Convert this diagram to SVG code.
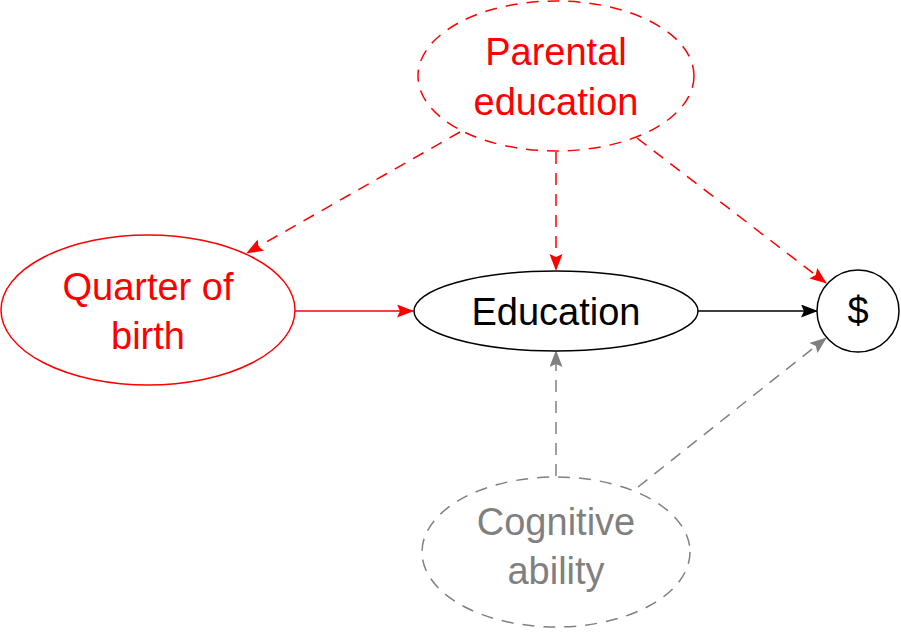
<svg xmlns="http://www.w3.org/2000/svg" width="901" height="633" viewBox="0 0 901 633">
<defs>
<style>
.t{font-family:"Liberation Sans",Arial,sans-serif;font-size:38px;text-anchor:middle}
.red{fill:#ff0000}
.gray{fill:#808080}
.blk{fill:#000}
.node{fill:#fff;stroke-width:1.5}
.e{fill:none;stroke-width:1.5}
.dash{stroke-dasharray:12 9}
</style>
<marker id="ar" markerUnits="userSpaceOnUse" markerWidth="18" markerHeight="14" refX="16" refY="6.5" orient="auto" viewBox="0 0 18 14"><path d="M0,0 L17,6.5 L0,13 L3,6.5 Z" fill="#ff0000"/></marker>
<marker id="ab" markerUnits="userSpaceOnUse" markerWidth="18" markerHeight="14" refX="16" refY="6.5" orient="auto" viewBox="0 0 18 14"><path d="M0,0 L17,6.5 L0,13 L3,6.5 Z" fill="#000"/></marker>
<marker id="ag" markerUnits="userSpaceOnUse" markerWidth="18" markerHeight="14" refX="16" refY="6.5" orient="auto" viewBox="0 0 18 14"><path d="M0,0 L17,6.5 L0,13 L3,6.5 Z" fill="#808080"/></marker>
</defs>
<g id="connectors">
<line class="e dash" stroke="#ff0000" x1="460" y1="132" x2="247" y2="253" marker-end="url(#ar)"/>
<line class="e dash" stroke="#ff0000" x1="556" y1="152" x2="556" y2="270" marker-end="url(#ar)"/>
<line class="e dash" stroke="#ff0000" x1="637" y1="138" x2="826" y2="283" marker-end="url(#ar)"/>
<line class="e" stroke="#ff0000" x1="295" y1="311" x2="413" y2="311" marker-end="url(#ar)"/>
<line class="e" stroke="#000" x1="698" y1="311" x2="817" y2="311" marker-end="url(#ab)"/>
<line class="e dash" stroke="#808080" x1="556" y1="476" x2="556" y2="351" marker-end="url(#ag)"/>
<line class="e dash" stroke="#808080" x1="638" y1="487" x2="826" y2="338" marker-end="url(#ag)"/>
</g>
<g id="parental">
<ellipse class="node dash" stroke="#ff0000" cx="556" cy="76" rx="138" ry="75"/>
<text class="t red" x="556" y="65">Parental</text>
<text class="t red" x="556" y="115">education</text>
</g>
<g id="quarter">
<ellipse class="node" stroke="#ff0000" cx="148" cy="310" rx="147" ry="75"/>
<text class="t red" x="148" y="300">Quarter of</text>
<text class="t red" x="148" y="349">birth</text>
</g>
<g id="education">
<ellipse class="node" stroke="#000" cx="556" cy="311" rx="142" ry="40"/>
<text class="t blk" x="556" y="325">Education</text>
</g>
<g id="dollar">
<circle class="node" stroke="#000" cx="858" cy="311" r="41"/>
<text class="t blk" x="858" y="324">$</text>
</g>
<g id="cognitive">
<ellipse class="node dash" stroke="#808080" cx="556" cy="552" rx="134" ry="75"/>
<text class="t gray" x="556" y="535">Cognitive</text>
<text class="t gray" x="556" y="584">ability</text>
</g>
</svg>
